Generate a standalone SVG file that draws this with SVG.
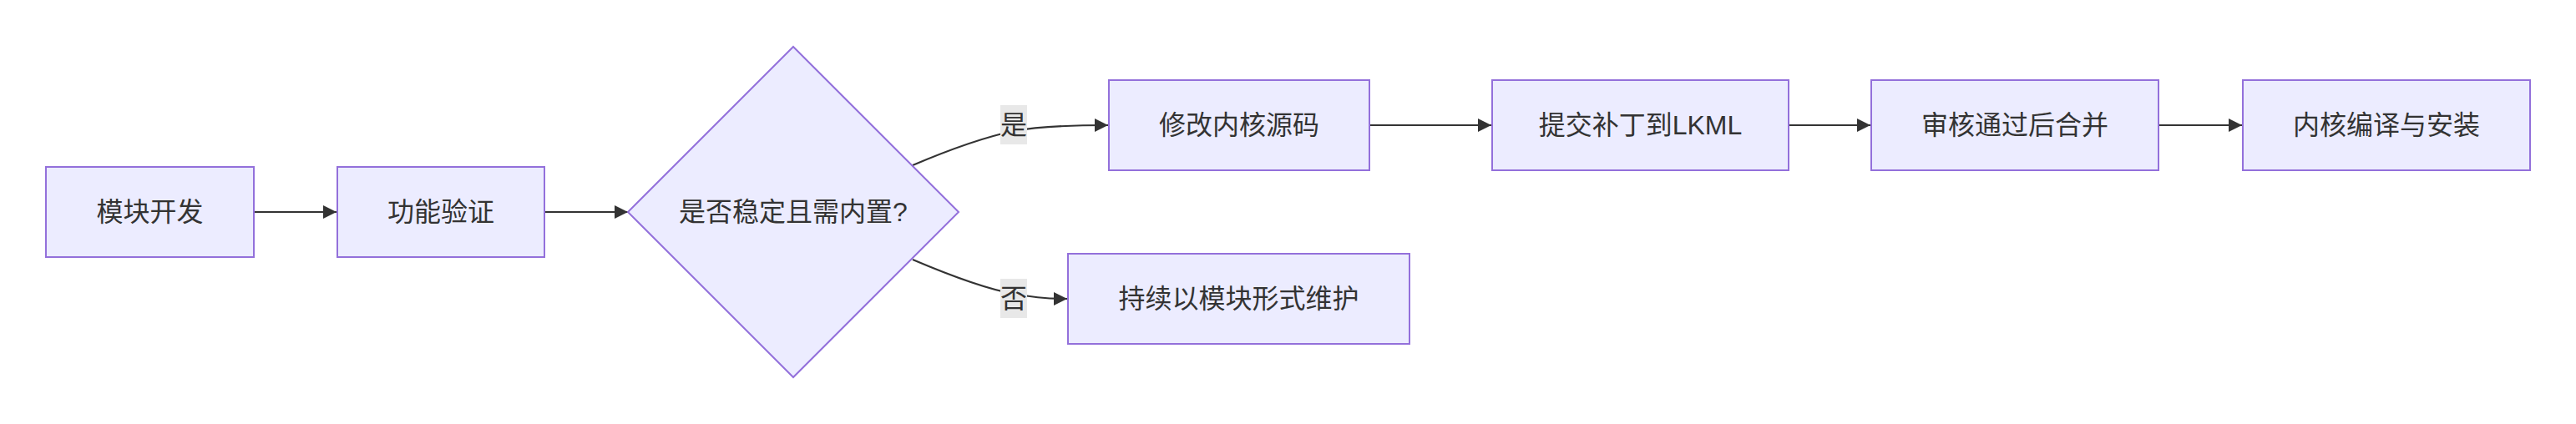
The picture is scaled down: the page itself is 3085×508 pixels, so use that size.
<svg xmlns="http://www.w3.org/2000/svg" width="3085" height="508" viewBox="0 0 3085 508">
  <style>
    .node rect, .node polygon { fill: #ECECFF; stroke: #9370DB; stroke-width: 2; }
    .node text, .label text { font-family: "Liberation Sans", "Noto Sans CJK SC", sans-serif; font-size: 32px; fill: #333333; text-anchor: middle; dominant-baseline: central; }
    .edge { fill: none; stroke: #333333; stroke-width: 2.2; marker-end: url(#arrow); }
    .label rect { fill: #e8e8e8; }
  </style>
  <defs>
    <marker id="arrow" viewBox="0 0 10 10" refX="10" refY="5" markerUnits="userSpaceOnUse" markerWidth="16" markerHeight="16" orient="auto">
      <path d="M0,0 L10,5 L0,10 z" fill="#333333"/>
    </marker>
  </defs>
  <rect width="3085" height="508" fill="#ffffff"/>

  <g id="connectors">
    <path class="edge" d="M305,254 L403,254"/>
    <path class="edge" d="M652,254 L752,254"/>
    <path class="edge" d="M1093,198 C1140,178 1180,164 1214,157 C1246,151 1282,150 1327,150"/>
    <path class="edge" d="M1093,311 C1140,331 1180,346 1214,352 C1240,357 1255,358 1278,358"/>
    <path class="edge" d="M1640,150 L1786,150"/>
    <path class="edge" d="M2142,150 L2240,150"/>
    <path class="edge" d="M2585,150 L2685,150"/>
  </g>

  <g id="edge-labels">
    <g class="label" id="label-yes">
      <rect x="1198" y="126" width="32" height="47"/>
      <text x="1214" y="150">是</text>
    </g>
    <g class="label" id="label-no">
      <rect x="1198" y="334" width="32" height="47"/>
      <text x="1214" y="358">否</text>
    </g>
  </g>

  <g id="node-A" class="node">
    <rect x="55" y="200" width="249" height="108"/>
    <text x="179.5" y="254">模块开发</text>
  </g>
  <g id="node-B" class="node">
    <rect x="404" y="200" width="248" height="108"/>
    <text x="528" y="254">功能验证</text>
  </g>
  <g id="node-C" class="node">
    <polygon points="950,56 1148,254 950,452 752,254"/>
    <text x="950" y="254">是否稳定且需内置?</text>
  </g>
  <g id="node-D" class="node">
    <rect x="1328" y="96" width="312" height="108"/>
    <text x="1484" y="150">修改内核源码</text>
  </g>
  <g id="node-E" class="node">
    <rect x="1279" y="304" width="409" height="108"/>
    <text x="1483.5" y="358">持续以模块形式维护</text>
  </g>
  <g id="node-F" class="node">
    <rect x="1787" y="96" width="355" height="108"/>
    <text x="1964.5" y="150">提交补丁到LKML</text>
  </g>
  <g id="node-G" class="node">
    <rect x="2241" y="96" width="344" height="108"/>
    <text x="2413" y="150">审核通过后合并</text>
  </g>
  <g id="node-H" class="node">
    <rect x="2686" y="96" width="344" height="108"/>
    <text x="2858" y="150">内核编译与安装</text>
  </g>
</svg>
